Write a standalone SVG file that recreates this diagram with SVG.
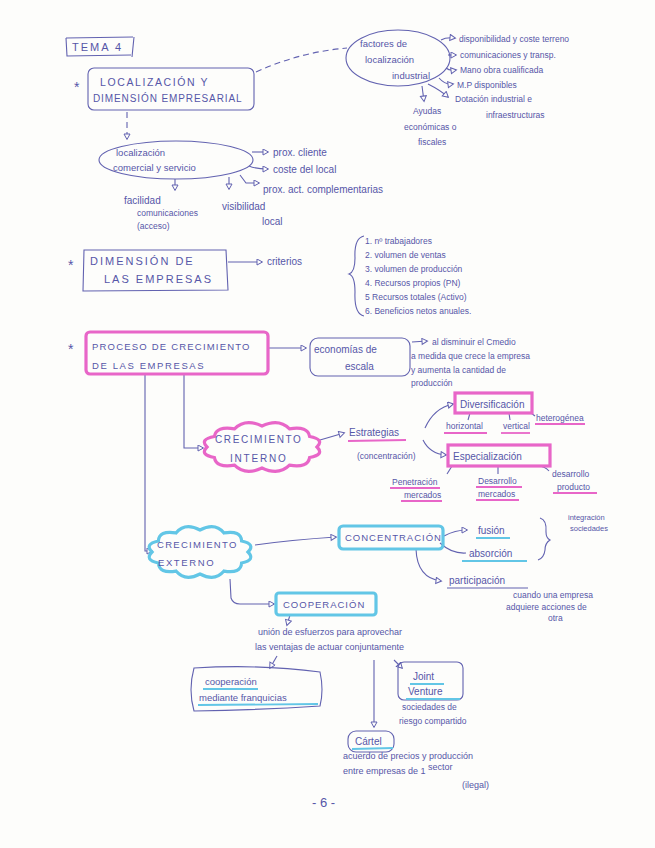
<svg xmlns="http://www.w3.org/2000/svg" width="655" height="848" viewBox="0 0 655 848">
<defs>
<style>
text{font-family:"Liberation Sans","DejaVu Sans",sans-serif;fill:#5656a8;font-size:10px}
.cap{font-size:11px;letter-spacing:2px}
.sm{font-size:8.5px}
.ink{fill:none;stroke:#6262b0;stroke-width:1.1}
.dash{fill:none;stroke:#6262b0;stroke-width:1.1;stroke-dasharray:6 4}
.pink{fill:none;stroke:#e866c8;stroke-width:3.2}
.cyan{fill:none;stroke:#62c6e6;stroke-width:3.2}
.pu{fill:none;stroke:#e866c8;stroke-width:1.8}
.cu{fill:none;stroke:#62c6e6;stroke-width:1.8}
</style>
<marker id="a" markerWidth="8" markerHeight="8" refX="6" refY="3.5" orient="auto" markerUnits="userSpaceOnUse">
<path d="M1,0.5 L6.5,3.5 L1,6.5 Z" fill="#fdfdfb" stroke="#6262b0" stroke-width="1"/>
</marker>
</defs>
<rect width="655" height="848" fill="#fdfdfb"/>

<g id="connectors">
<path class="dash" d="M256,72 Q300,52 347,48"/>
<path class="dash" d="M127,112 L127,139" marker-end="url(#a)"/>
<path class="ink" d="M441,40 Q446,37 455,38" marker-end="url(#a)"/>
<path class="ink" d="M448,55 L456,55" marker-end="url(#a)"/>
<path class="ink" d="M446,68 Q449,71 456,70" marker-end="url(#a)"/>
<path class="ink" d="M439,78 Q445,85 453,84" marker-end="url(#a)"/>
<path class="ink" d="M428,84 Q440,90 448,97" marker-end="url(#a)"/>
<path class="ink" d="M422,86 L424,101" marker-end="url(#a)"/>
<path class="ink" d="M252,152 L268,152" marker-end="url(#a)"/>
<path class="ink" d="M249,166 Q256,169 268,169" marker-end="url(#a)"/>
<path class="ink" d="M240,175 L246,183 L259,183" marker-end="url(#a)"/>
<path class="ink" d="M175,179 L175,190" marker-end="url(#a)"/>
<path class="ink" d="M229,177 L229,189" marker-end="url(#a)"/>
<path class="ink" d="M228,262 L262,262" marker-end="url(#a)"/>
<path class="ink" d="M269,348 L306,348" marker-end="url(#a)"/>
<path class="ink" d="M412,342 L427,341" marker-end="url(#a)"/>
<path class="ink" d="M145,375 L145,551 L152,551" marker-end="url(#a)"/>
<path class="ink" d="M184,375 L184,448 L203,448" marker-end="url(#a)"/>
<path class="ink" d="M320,440 L344,433" marker-end="url(#a)"/>
<path class="ink" d="M425,428 Q434,408 453,404" marker-end="url(#a)"/>
<path class="ink" d="M423,440 Q430,454 446,455" marker-end="url(#a)"/>
<path class="ink" d="M470,413 L468,420"/>
<path class="ink" d="M509,413 L510,420"/>
<path class="ink" d="M531,413 L535,416"/>
<path class="ink" d="M452,466 L447,474"/>
<path class="ink" d="M498,466 L498,474"/>
<path class="ink" d="M537,466 Q545,466 549,471"/>
<path class="ink" d="M255,545 Q290,540 336,537" marker-end="url(#a)"/>
<path class="ink" d="M444,536 Q455,530 467,530" marker-end="url(#a)"/>
<path class="ink" d="M440,543 Q452,554 466,553"/>
<path class="ink" d="M416,549 Q417,578 441,581" marker-end="url(#a)"/>
<path class="ink" d="M230,579 L231,598 Q233,604 240,604 L274,604" marker-end="url(#a)"/>
<path class="ink" d="M290,615 L287,625" marker-end="url(#a)"/>
<path class="ink" d="M277,656 L270,668" marker-end="url(#a)"/>
<path class="ink" d="M374,660 L374,727" marker-end="url(#a)"/>
<path class="ink" d="M394,660 L402,668" marker-end="url(#a)"/>
</g>

<g id="tema">
<path class="ink" d="M66,38 L133,37 M66,38 L67,56 L131,55 M134,37 L132,57"/>
<text x="72" y="51" class="cap">TEMA 4</text>
</g>

<g id="localizacion-dimension">
<text x="74" y="92" style="font-size:14px">*</text>
<rect x="88" y="68" width="166" height="42" rx="6" class="ink"/>
<text x="100" y="86" class="cap" style="font-size:10.5px;letter-spacing:1.6px">LOCALIZACIÓN    Y</text>
<text x="93" y="102" class="cap" style="font-size:10px;letter-spacing:0.9px">DIMENSIÓN EMPRESARIAL</text>
</g>

<g id="factores">
<ellipse cx="398" cy="58" rx="52" ry="28" class="ink"/>
<text x="360" y="47" style="font-size:9.5px">factores  de</text>
<text x="365" y="63" style="font-size:9.5px">localización</text>
<text x="392" y="79" style="font-size:9.5px">industrial</text>
<text x="459" y="42" class="sm">disponibilidad y coste terreno</text>
<text x="460" y="58" class="sm">comunicaciones y transp.</text>
<text x="460" y="73" class="sm">Mano obra cualificada</text>
<text x="457" y="88" class="sm">M.P disponibles</text>
<text x="455" y="102" class="sm">Dotación industrial e</text>
<text x="486" y="118" class="sm">infraestructuras</text>
<text x="413" y="114" class="sm">Ayudas</text>
<text x="404" y="130" class="sm">económicas o</text>
<text x="418" y="145" class="sm">fiscales</text>
</g>

<g id="comercial">
<ellipse cx="176" cy="160" rx="77" ry="19" class="ink"/>
<text x="116" y="156" style="font-size:9.5px">localización</text>
<text x="113" y="171" style="font-size:9.5px">comercial y servicio</text>
<text x="273" y="156">prox. cliente</text>
<text x="273" y="173">coste del local</text>
<text x="263" y="193">prox. act. complementarias</text>
<text x="124" y="204">facilidad</text>
<text x="137" y="216" class="sm">comunicaciones</text>
<text x="137" y="229" class="sm">(acceso)</text>
<text x="222" y="210">visibilidad</text>
<text x="262" y="225">local</text>
</g>

<g id="dimension">
<text x="68" y="270" style="font-size:14px">*</text>
<path class="ink" d="M84,250 L226,250 L228,290 L83,291 Z"/>
<text x="90" y="265" class="cap">DIMENSIÓN  DE</text>
<text x="104" y="283" class="cap">LAS  EMPRESAS</text>
<text x="267" y="265">criterios</text>
<path class="ink" d="M364,236 Q354,238 355,258 Q355,272 349,274 Q355,276 355,292 Q354,314 364,316"/>
<text x="365" y="244" class="sm">1. nº trabajadores</text>
<text x="365" y="258" class="sm">2. volumen de ventas</text>
<text x="365" y="272" class="sm">3. volumen de producción</text>
<text x="365" y="286" class="sm">4. Recursos propios (PN)</text>
<text x="365" y="300" class="sm">5  Recursos totales (Activo)</text>
<text x="365" y="314" class="sm">6. Beneficios netos anuales.</text>
</g>

<g id="proceso">
<text x="68" y="354" style="font-size:14px">*</text>
<rect x="86" y="332" width="182" height="42" rx="4" class="pink"/>
<text x="92" y="350" class="cap" style="font-size:9.5px;letter-spacing:1.2px">PROCESO  DE  CRECIMIENTO</text>
<text x="92" y="369" class="cap" style="font-size:9.5px;letter-spacing:1.6px">DE  LAS  EMPRESAS</text>
</g>

<g id="economias">
<rect x="310" y="338" width="100" height="38" rx="8" class="ink"/>
<text x="314" y="353">economías  de</text>
<text x="345" y="370">escala</text>
<text x="432" y="345" class="sm">al disminuir el Cmedio</text>
<text x="411" y="359" class="sm">a medida que crece la empresa</text>
<text x="411" y="373" class="sm">y aumenta la cantidad de</text>
<text x="411" y="386" class="sm">producción</text>
</g>

<g id="crecimiento-interno">
<path class="pink" d="M317,447 Q324.8,454.8 309.6,457.5 Q308,468.2 289.5,465.2 Q278.8,476 262,468 Q245.2,476 234.5,465.2 Q216,468.2 214.4,457.5 Q199.2,454.8 207,447 Q199.2,439.2 214.4,436.5 Q216,425.8 234.5,428.8 Q245.2,418 262,426 Q278.8,418 289.5,428.8 Q308,425.8 309.6,436.5 Q324.8,439.2 317,447 Z"/>
<text x="215" y="443" class="cap" style="font-size:10px;letter-spacing:1.6px">CRECIMIENTO</text>
<text x="230" y="462" class="cap" style="font-size:10px;letter-spacing:1.8px">INTERNO</text>
</g>

<g id="estrategias">
<text x="349" y="436">Estrategias</text>
<path class="pu" d="M348,441 L406,440"/>
<text x="357" y="459" class="sm">(concentración)</text>
</g>

<g id="diversificacion">
<rect x="455" y="393" width="77" height="20" class="pink" stroke-width="2.6"/>
<text x="460" y="408">Diversificación</text>
<text x="446" y="429" class="sm">horizontal</text>
<path class="pu" d="M444,433 L487,433"/>
<text x="503" y="429" class="sm">vertical</text>
<path class="pu" d="M501,433 L530,433"/>
<text x="536" y="421" class="sm">heterogénea</text>
<path class="pu" d="M535,424 L585,424"/>
</g>

<g id="especializacion">
<rect x="448" y="445" width="102" height="21" class="pink" stroke-width="2.6"/>
<text x="453" y="460">Especialización</text>
<text x="392" y="485" class="sm">Penetración</text>
<path class="pu" d="M390,488 L440,488"/>
<text x="404" y="498" class="sm">mercados</text>
<path class="pu" d="M401,501 L442,501"/>
<text x="478" y="484" class="sm">Desarrollo</text>
<path class="pu" d="M476,487 L522,487"/>
<text x="478" y="497" class="sm">mercados</text>
<path class="pu" d="M476,500 L519,500"/>
<text x="552" y="477" class="sm">desarrollo</text>
<text x="557" y="490" class="sm">producto</text>
<path class="pu" d="M553,493 L597,493"/>
</g>

<g id="crecimiento-externo">
<path class="cyan" d="M248,552 Q256,560 241.6,563 Q241,573.9 224,571.1 Q215,581.9 200,574 Q185,581.9 176,571.1 Q159,573.9 158.4,563 Q144,560 152,552 Q144,544 158.4,541 Q159,530.1 176,532.9 Q185,522.1 200,530 Q215,522.1 224,532.9 Q241,530.1 241.6,541 Q256,544 248,552 Z"/>
<text x="157" y="548" class="cap" style="font-size:9.5px;letter-spacing:1.3px">CRECIMIENTO</text>
<text x="158" y="566" class="cap" style="font-size:9.5px;letter-spacing:1.6px">EXTERNO</text>
</g>

<g id="concentracion">
<rect x="339" y="526" width="104" height="23" rx="4" class="cyan"/>
<text x="345" y="541" class="cap" style="font-size:9.5px;letter-spacing:1px">CONCENTRACIÓN</text>
<text x="478" y="534">fusión</text>
<path class="cu" d="M476,538 L510,538"/>
<text x="469" y="557">absorción</text>
<path class="cu" d="M462,561 L527,561"/>
<path class="ink" d="M540,518 Q547,520 546,532 Q546,538 550,540 Q545,543 545,550 Q544,558 538,560"/>
<text x="568" y="520" class="sm" style="font-size:7.5px">integración</text>
<text x="570" y="531" class="sm" style="font-size:7.5px">sociedades</text>
<text x="449" y="584">participación</text>
<path class="ink" d="M447,588 L528,588"/>
<text x="513" y="598" class="sm">cuando una empresa</text>
<text x="506" y="610" class="sm">adquiere acciones de</text>
<text x="548" y="621" class="sm">otra</text>
</g>

<g id="cooperacion">
<rect x="276" y="593" width="100" height="22" rx="3" class="cyan"/>
<text x="283" y="608" class="cap" style="font-size:9.5px;letter-spacing:1px">COOPERACIÓN</text>
<text x="258" y="635" class="sm" style="font-size:9px">unión de esfuerzos para aprovechar</text>
<text x="255" y="650" class="sm" style="font-size:9px">las ventajas de actuar conjuntamente</text>
</g>

<g id="franquicias">
<path class="ink" d="M194,668 Q260,664 320,672 Q324,690 320,706 Q260,710 194,711 Q188,690 194,668 Z"/>
<text x="205" y="685" style="font-size:9.5px">cooperación</text>
<path class="cu" d="M203,689 L258,689"/>
<text x="199" y="701" style="font-size:9.5px">mediante franquicias</text>
<path class="cu" d="M198,705 L318,704"/>
</g>

<g id="joint-venture">
<rect x="398" y="662" width="65" height="38" rx="6" class="ink"/>
<text x="413" y="680">Joint</text>
<path class="cu" d="M410,684 L444,684"/>
<text x="408" y="695">Venture</text>
<path class="cu" d="M406,699 L460,699"/>
<text x="402" y="710" class="sm">sociedades de</text>
<text x="399" y="724" class="sm">riesgo compartido</text>
</g>

<g id="cartel">
<rect x="348" y="731" width="46" height="21" rx="8" class="ink"/>
<text x="355" y="745">Cártel</text>
<path class="cu" d="M352,749 L393,748"/>
<text x="343" y="759" class="sm" style="font-size:9px">acuerdo de precios  y  producción</text>
<text x="343" y="774" class="sm" style="font-size:9px">entre empresas de 1 <tspan dy="-4">sector</tspan></text>
<text x="462" y="788" class="sm" style="font-size:9px">(ilegal)</text>
</g>

<text x="312" y="807" style="font-size:13px">- 6 -</text>
</svg>
